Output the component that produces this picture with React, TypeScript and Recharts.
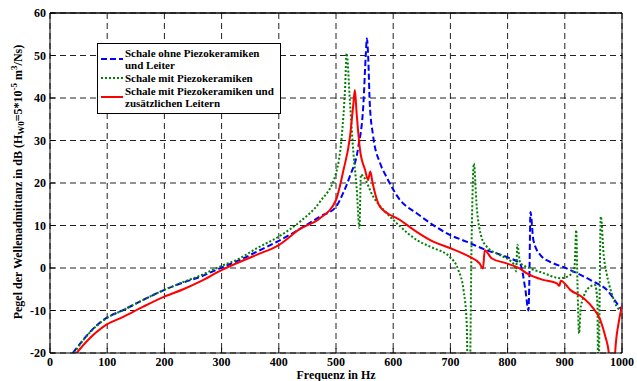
// Wellenadmittanz einer Schale — drei Varianten über der Frequenz.
// Matlab-artiger Plot: Rahmen, gestricheltes Gitter, Legende im Kasten oben links.

import {
  CartesianGrid,
  Legend,
  Line,
  LineChart,
  ReferenceLine,
  XAxis,
  YAxis,
} from "recharts";

const SERIF = "'Liberation Serif', 'Times New Roman', serif";

const xTicks = [0, 100, 200, 300, 400, 500, 600, 700, 800, 900, 1000];
const yTicks = [-20, -10, 0, 10, 20, 30, 40, 50, 60];

// Schale ohne Piezokeramiken und Leiter
const blueFreq = [
  40, 58, 76, 98, 128, 163, 199, 233, 262, 300, 332, 361, 400, 437, 472, 500,
  512, 524, 539, 548, 552, 554, 556.5, 559, 565, 577, 588, 612, 641, 670, 699,
  728, 763, 798, 822, 831, 836.5, 838, 840, 845, 857, 880, 898, 921, 950, 974,
  991, 1000,
];
const blueLevel = [
  -20, -16.9, -14.2, -11.8, -9.9, -7.5, -5.2, -3.4, -2.1, 0.1, 1.9, 3.8, 6.4,
  9.2, 12.1, 14.4, 17.5, 21.5, 28.5, 38.8, 50, 54, 49, 38.8, 31, 24.7, 21.5, 16,
  12.9, 10.1, 7.8, 6.2, 4.2, 2.6, 0.9, -5, -10, -3, 13.2, 6.6, 3.1, 1.1, 0.2,
  -1.2, -3.2, -5.2, -8.3, -10,
];

// Schale mit Piezokeramiken
const greenFreq = [
  42, 58, 76, 98, 128, 163, 199, 233, 262, 300, 332, 361, 400, 437, 472, 500,
  510, 516, 518.5, 524.5, 530.5, 536, 541, 543.5, 548, 565, 588, 612, 641, 670,
  699, 714, 723, 728.5, 731, 733.5, 737, 741, 746, 754, 763, 786, 812, 815, 817,
  822, 840, 863, 892, 910, 917, 920, 922, 925, 928, 944, 953, 957, 958.5, 963,
  968, 973, 982, 993, 1000,
];
const greenLevel = [
  -20, -17, -14.3, -11.9, -9.9, -7.5, -5.2, -3.3, -1.8, 0.5, 2.3, 4.6, 7.4,
  10.9, 15.6, 22.3, 31, 42.7, 50.5, 38.8, 27, 19.1, 9.4, 22, 21.5, 16.8, 13,
  9.8, 6.6, 4.7, 2.6, -0.5, -5.2, -13, -30, -30, 6, 24.6, 14.4, 7.4, 5.1, 3.1,
  0.7, -0.8, 5.5, 1.2, -0.1, -1.2, -2.4, -1.6, 0.3, 8.9, -2.8, -15.4, -9, -4.4,
  -4, -8, -30, 12.1, 3, -1.2, -6, -9.5, -10,
];

// Schale mit Piezokeramiken und zusätzlichen Leitern
const redFreq = [
  46.5, 64, 98, 128, 163, 199, 233, 262, 300, 361, 400, 437, 472, 500, 513,
  524.5, 530.5, 533, 536, 542, 551, 556, 560, 564, 577, 612, 641, 670, 699, 734,
  751, 757, 760, 772, 798, 821, 833, 862, 886, 890.5, 893, 910, 933, 950, 962,
  971, 977, 980, 986, 988, 994, 1000,
];
const redLevel = [
  -20, -17.3, -13.4, -11.5, -9.1, -6.8, -5, -3.2, -0.5, 3.1, 5.4, 9.2, 11.7, 16,
  23, 30.9, 38.8, 41.9, 36.5, 27.8, 23, 20.7, 22.7, 20, 14.4, 11.3, 8.5, 6.2,
  4.7, 2.6, 1.1, -0.1, 4.2, 2.3, 1.1, -0.1, -1.2, -2.8, -3.6, -4.2, -3, -5.2,
  -7.1, -9.5, -12.2, -16.2, -20, -30, -30, -20, -13, -9,
];

const toPoints = (freq: number[], level: number[]) =>
  freq.map((hz, i) => ({ hz, level: level[i] }));

const SERIES = [
  {
    key: "ohne",
    name: "Schale ohne Piezokeramiken\nund Leiter",
    color: "#0000ff",
    dash: "6 3",
    data: toPoints(blueFreq, blueLevel),
  },
  {
    key: "mit",
    name: "Schale mit Piezokeramiken",
    color: "#008000",
    dash: "2 2",
    data: toPoints(greenFreq, greenLevel),
  },
  {
    key: "leiter",
    name: "Schale mit Piezokeramiken und\nzusätzlichen Leitern",
    color: "#ff0000",
    dash: undefined as string | undefined,
    data: toPoints(redFreq, redLevel),
  },
];

function BoxLegend() {
  return (
    <div
      style={{
        border: "1.5px solid #000",
        background: "#fff",
        padding: "2px 6px 3px 2px",
        fontFamily: SERIF,
        fontWeight: "bold",
        fontSize: 11,
        lineHeight: "12px",
        color: "#000",
      }}
    >
      {SERIES.map((s) => (
        <div
          key={s.key}
          style={{ display: "flex", alignItems: "center", margin: "1px 0" }}
        >
          <svg width={24} height={10} style={{ flex: "none" }}>
            <line
              x1={1}
              x2={23}
              y1={5}
              y2={5}
              stroke={s.color}
              strokeWidth={2}
              strokeDasharray={s.dash}
            />
          </svg>
          <span style={{ whiteSpace: "pre-line", marginLeft: 1 }}>{s.name}</span>
        </div>
      ))}
    </div>
  );
}

function YTitle() {
  const cx = 18;
  const cy = 182;
  return (
    <text
      x={cx}
      y={cy}
      transform={`rotate(-90 ${cx} ${cy})`}
      textAnchor="middle"
      dominantBaseline="central"
      fontFamily={SERIF}
      fontWeight="bold"
      fontSize={12}
      fill="#000"
    >
      Pegel der Wellenadmittanz in dB (H
      <tspan fontSize={9} dy={3}>
        W0
      </tspan>
      <tspan dy={-3}>=5*10</tspan>
      <tspan fontSize={9} dy={-4}>
        -5
      </tspan>
      <tspan dy={4}> m</tspan>
      <tspan fontSize={9} dy={-4}>
        3
      </tspan>
      <tspan dy={4}>/Ns)</tspan>
    </text>
  );
}

const tickStyle = {
  fill: "#000",
  fontFamily: SERIF,
  fontWeight: "bold",
  fontSize: 12,
};

export default function App() {
  return (
    <div style={{ position: "absolute", left: 0, top: 0, background: "#fff" }}>
      <LineChart
        width={637}
        height={381}
        margin={{ top: 13, right: 15, bottom: 0, left: 0 }}
      >
        <CartesianGrid stroke="#222" strokeDasharray="6 4" />
        <XAxis
          type="number"
          dataKey="hz"
          domain={[0, 1000]}
          ticks={xTicks}
          allowDataOverflow
          height={28}
          tick={tickStyle}
          tickSize={-5}
          tickMargin={9}
          axisLine={{ stroke: "#000" }}
          tickLine={{ stroke: "#000" }}
          label={{
            value: "Frequenz in Hz",
            position: "insideBottom",
            offset: 2,
            style: {
              fill: "#000",
              fontFamily: SERIF,
              fontWeight: "bold",
              fontSize: 12,
            },
          }}
        />
        <YAxis
          type="number"
          dataKey="level"
          domain={[-20, 60]}
          ticks={yTicks}
          allowDataOverflow
          width={50}
          tick={tickStyle}
          tickSize={-5}
          tickMargin={9}
          axisLine={{ stroke: "#000" }}
          tickLine={{ stroke: "#000" }}
          label={<YTitle />}
        />
        <ReferenceLine y={60} stroke="#000" strokeWidth={1.5} />
        <ReferenceLine x={1000} stroke="#000" strokeWidth={1} />
        <Legend
          layout="vertical"
          align="center"
          verticalAlign="middle"
          content={<BoxLegend />}
          wrapperStyle={{ position: "absolute", left: 97, top: 43, width: "auto" }}
        />
        {SERIES.map((s) => (
          <Line
            key={s.key}
            data={s.data}
            dataKey="level"
            name={s.name}
            type="monotone"
            stroke={s.color}
            strokeWidth={2}
            strokeDasharray={s.dash}
            dot={false}
            isAnimationActive={false}
          />
        ))}
      </LineChart>
    </div>
  );
}
